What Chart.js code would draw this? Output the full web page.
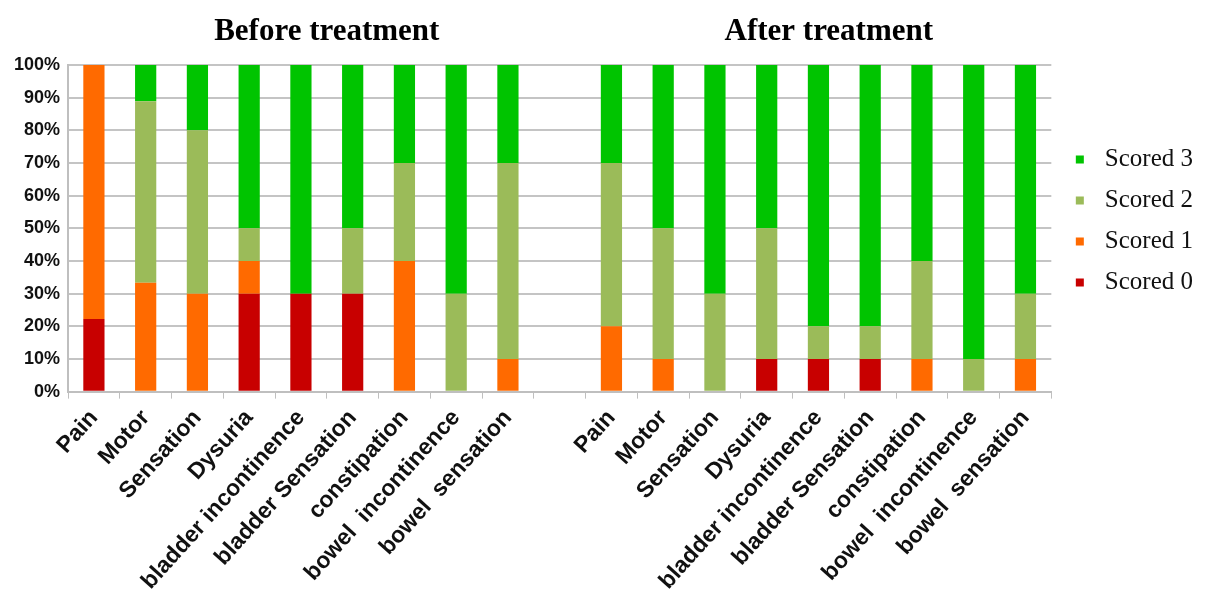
<!DOCTYPE html>
<html>
<head>
<meta charset="utf-8">
<script src="https://cdn.jsdelivr.net/npm/chart.js@4"></script>
<style>
  body { margin: 0; background: #fff; }
</style>
</head>
<body>
<canvas id="chart" width="1205" height="601"></canvas>
<script>
// categories: before treatment, an empty gap, after treatment
const items = ['Pain', 'Motor', 'Sensation', 'Dysuria', 'bladder incontinence', 'bladder Sensation', 'constipation', 'bowel  incontinence', 'bowel  sensation'];
const categories = [...items, '', ...items];

// percentages per score (before 9 values, gap, after 9 values)
const scored0 = [22.2, 0, 0, 30, 30, 30, 0, 0, 0, null, 0, 0, 0, 10, 10, 10, 0, 0, 0];
const scored1 = [77.8, 33.3, 30, 10, 0, 0, 40, 0, 10, null, 20, 10, 0, 0, 0, 0, 10, 0, 10];
const scored2 = [0, 55.6, 50, 10, 0, 20, 30, 30, 60, null, 50, 40, 30, 40, 10, 10, 30, 10, 20];
const scored3 = [0, 11.1, 20, 50, 70, 50, 30, 70, 30, null, 30, 50, 70, 50, 80, 80, 60, 90, 70];

const yTicks = [0, 10, 20, 30, 40, 50, 60, 70, 80, 90, 100];

// group titles, placed over a category position
const groupTitles = [
    { text: 'Before treatment', at: 4.5 },
    { text: 'After treatment', at: 14.2 }
];

const groupTitlePlugin = {
    id: 'groupTitles',
    afterDraw(chart) {
        const ctx = chart.ctx;
        const x = chart.scales.x;
        ctx.save();
        ctx.font = 'bold 31px "Liberation Serif", "Times New Roman", serif';
        ctx.fillStyle = '#000';
        ctx.textAlign = 'center';
        ctx.textBaseline = 'middle';
        groupTitles.forEach(g => {
            ctx.fillText(g.text, x.getPixelForValue(g.at), 32);
        });
        ctx.restore();
    }
};

const ctx = document.getElementById('chart').getContext('2d');
new Chart(ctx, {
    type: 'bar',
    data: {
        labels: categories,
        datasets: [
            { label: 'Scored 0', data: scored0, backgroundColor: '#c80000' },
            { label: 'Scored 1', data: scored1, backgroundColor: '#ff6a00' },
            { label: 'Scored 2', data: scored2, backgroundColor: '#9bbb59' },
            { label: 'Scored 3', data: scored3, backgroundColor: '#00c400' }
        ]
    },
    options: {
        responsive: false,
        animation: false,
        layout: { padding: { top: 65, right: 2, left: 6, bottom: 0 } },
        datasets: {
            bar: { barPercentage: 0.41, categoryPercentage: 1 }
        },
        scales: {
            x: {
                stacked: true,
                grid: { offset: true, drawOnChartArea: false, color: '#bfbfbf', tickLength: 7, lineWidth: 1 },
                border: { color: '#bfbfbf', width: 2 },
                ticks: {
                    autoSkip: false,
                    maxRotation: 48,
                    minRotation: 48,
                    color: '#111',
                    padding: 6,
                    font: { family: '"Liberation Sans", Arial, sans-serif', size: 23, weight: 'bold' }
                }
            },
            y: {
                stacked: true,
                min: 0,
                max: 100,
                afterBuildTicks: axis => { axis.ticks = yTicks.map(v => ({ value: v })); },
                grid: { color: '#c4c4c4', lineWidth: 2, drawTicks: false },
                border: { color: '#bfbfbf', width: 2 },
                ticks: {
                    color: '#111',
                    padding: 8,
                    callback: v => v + '%',
                    font: { family: '"Liberation Sans", Arial, sans-serif', size: 18, weight: 'bold' }
                }
            }
        },
        plugins: {
            legend: {
                position: 'right',
                align: 'start',
                reverse: true,
                title: { display: true, text: '', font: { size: 10 }, padding: { top: 0, bottom: 54 } },
                labels: {
                    usePointStyle: true,
                    pointStyle: 'rect',
                    boxWidth: 25,
                    boxHeight: 8,
                    padding: 16,
                    color: '#111',
                    font: { family: '"Liberation Serif", "Times New Roman", serif', size: 25 }
                }
            },
            tooltip: { enabled: false }
        }
    },
    plugins: [groupTitlePlugin]
});
</script>
</body>
</html>
